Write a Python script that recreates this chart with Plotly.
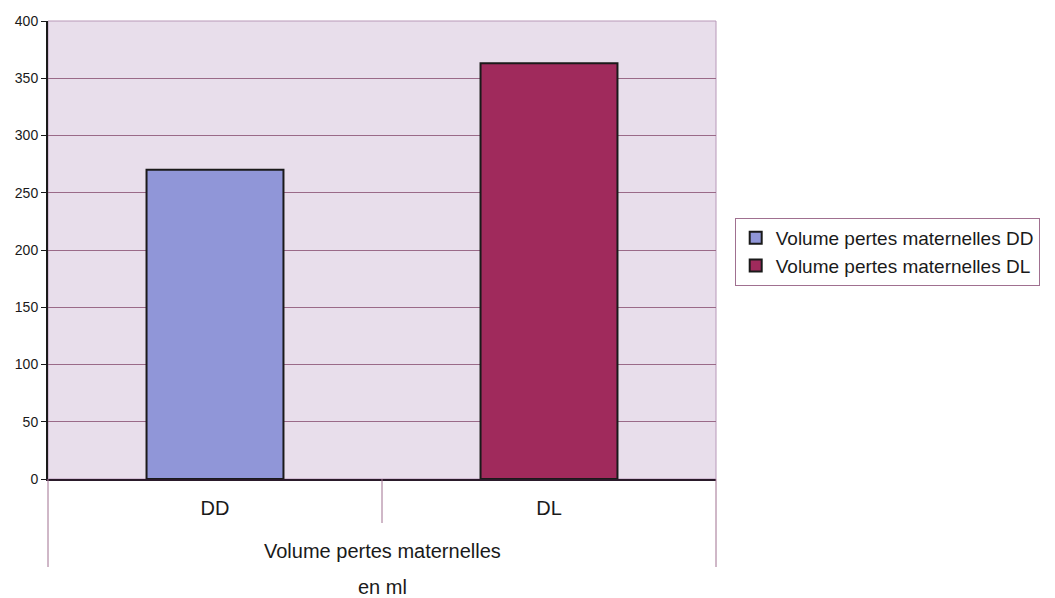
import plotly.graph_objects as go

group_label = "Volume pertes maternelles"
axis_title = "en ml"
categories = ["DD", "DL"]
series_names = ["Volume pertes maternelles DD", "Volume pertes maternelles DL"]
values = [270, 363]
colors = ["#9096d8", "#a02a5c"]
y_ticks = [0, 50, 100, 150, 200, 250, 300, 350, 400]

fig = go.Figure()
for cat, name, val, col in zip(categories, series_names, values, colors):
    fig.add_trace(go.Bar(
        x=[cat],
        y=[val],
        name=name,
        width=0.41,
        marker=dict(color=col, line=dict(color="#1a1a1a", width=2)),
    ))

PLOT_H = 458
fig.update_layout(
    width=1055, height=598,
    margin=dict(l=48, r=339, t=21, b=119),
    paper_bgcolor="white",
    plot_bgcolor="#e8deeb",
    barmode="overlay",
    font=dict(family="Liberation Sans, Arial, sans-serif", color="#1a1a1a"),
    showlegend=True,
    legend=dict(
        x=1.028, y=0.496, xanchor="left", yanchor="middle",
        bordercolor="#a07090", borderwidth=1,
        font=dict(size=19),
        bgcolor="white",
        tracegroupgap=0,
    ),
    xaxis=dict(
        type="category",
        categoryarray=categories,
        tickfont=dict(size=20),
        showgrid=False,
        ticks="",
        ticklabelstandoff=10,
        showline=True, linecolor="#2a1a2a", linewidth=2,
    ),
    yaxis=dict(
        range=[0, 400],
        tickvals=y_ticks,
        tickfont=dict(size=14),
        ticks="outside", ticklen=5, tickcolor="#1a1a1a",
        showgrid=True, gridcolor="#9a6a88", gridwidth=1,
        showline=True, linecolor="#1a1a1a", linewidth=2,
        zeroline=False,
    ),
)

# light frame on top/right of plot area
fig.add_shape(type="rect", xref="paper", yref="paper", x0=0, y0=0, x1=1, y1=1,
              line=dict(color="#b898b8", width=1), layer="below")

# category dividers below the axis (multi-level category look)
div_col = "#a07090"
fig.add_shape(type="line", xref="paper", yref="paper", x0=0.5, x1=0.5,
              y0=0, y1=-44 / PLOT_H, line=dict(color=div_col, width=1))
for xp in (0, 1):
    fig.add_shape(type="line", xref="paper", yref="paper", x0=xp, x1=xp,
                  y0=0, y1=-88 / PLOT_H, line=dict(color=div_col, width=1))

fig.add_annotation(text=group_label, xref="paper", yref="paper", x=0.5,
                   y=-72 / PLOT_H, yanchor="middle", showarrow=False,
                   font=dict(size=20))
fig.add_annotation(text=axis_title, xref="paper", yref="paper", x=0.5,
                   y=-108 / PLOT_H, yanchor="middle", showarrow=False,
                   font=dict(size=20))

fig.write_html("out.html",
               config={"displayModeBar": False},
               post_script="document.body.style.margin='0';document.body.style.overflow='hidden';")
